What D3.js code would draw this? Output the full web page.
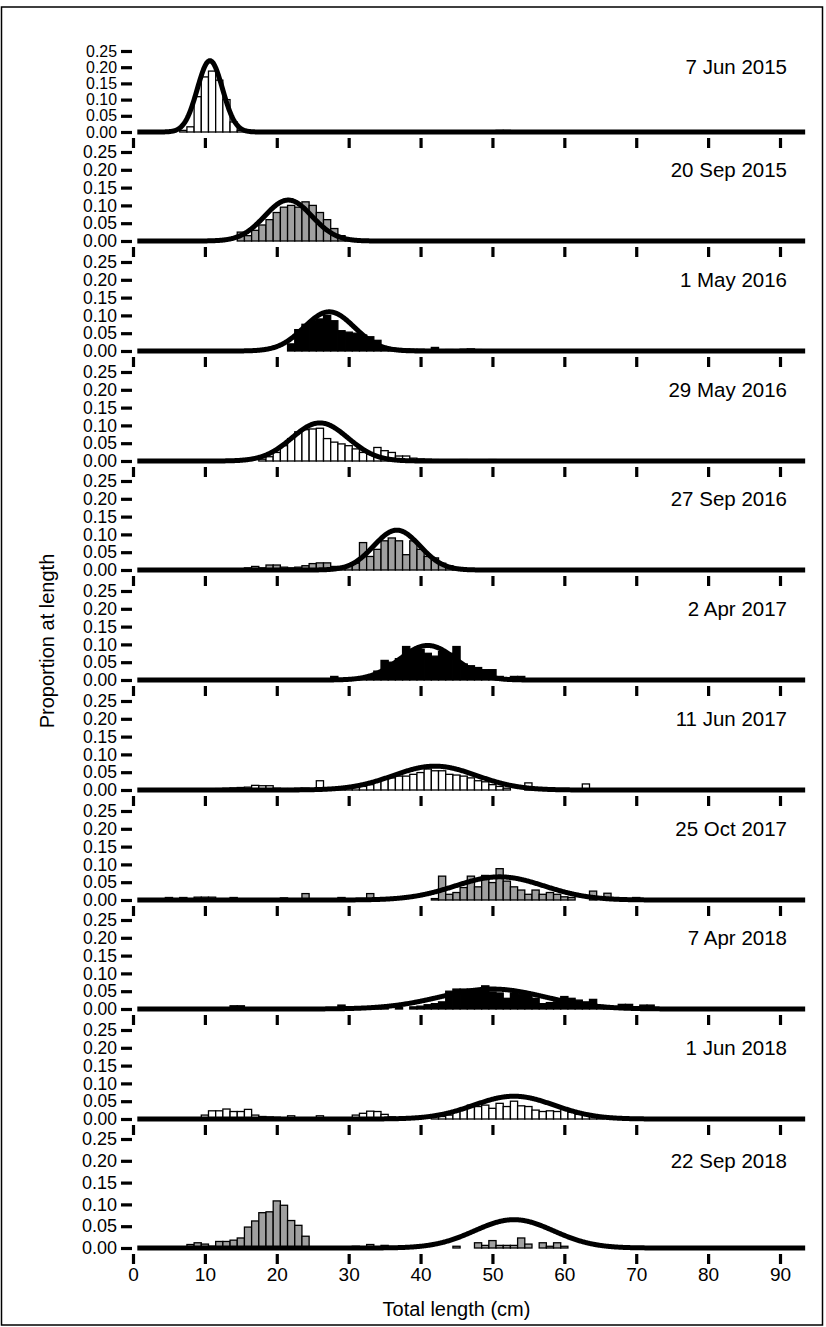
<!DOCTYPE html>
<html>
<head>
<meta charset="utf-8">
<script src="https://cdn.jsdelivr.net/npm/d3@7"></script>
<style>
  body { margin: 0; background: #fff; }
  svg text { font-family: "Liberation Sans", Arial, sans-serif; fill: #000; }
</style>
</head>
<body>
<div id="chart"></div>
<script>
// survey dates, one panel each
const panelDates = ['7 Jun 2015', '20 Sep 2015', '1 May 2016', '29 May 2016', '27 Sep 2016',
  '2 Apr 2017', '11 Jun 2017', '25 Oct 2017', '7 Apr 2018', '1 Jun 2018', '22 Sep 2018'];

// proportion at length, [length bin centre (cm), proportion]
const jun2015 = [[7,0.005],[8,0.016],[9,0.109],[10,0.17],[11,0.188],[12,0.16],[13,0.1],[14,0.031],[15,0.005],
  [34,0.003],[37,0.003],[40,0.003],[47,0.004],[51,0.005],[52,0.005]];
const sep2015 = [[15,0.025],[16,0.015],[17,0.03],[18,0.045],[19,0.06],[20,0.08],[21,0.095],[22,0.1],[23,0.095],
  [24,0.11],[25,0.1],[26,0.08],[27,0.06],[28,0.035],[29,0.015],[30,0.005]];
const may2016a = [[22,0.02],[23,0.06],[24,0.075],[25,0.085],[26,0.09],[27,0.1],[28,0.085],[29,0.057],[30,0.053],
  [31,0.05],[32,0.045],[33,0.04],[34,0.03],[35,0.012],[36,0.008],[37,0.007],[38,0.006],[39,0.005],[40,0.005],
  [41,0.004],[42,0.01],[43,0.003],[44,0.004],[45,0.003],[46,0.005],[47,0.006],[48,0.004],[52,0.002],[56,0.002]];
const may2016b = [[18,0.005],[19,0.012],[20,0.024],[21,0.043],[22,0.063],[23,0.082],[24,0.088],[25,0.09],[26,0.092],
  [27,0.063],[28,0.053],[29,0.048],[30,0.043],[31,0.034],[32,0.024],[33,0.019],[34,0.038],[35,0.029],[36,0.024],
  [37,0.014],[38,0.014],[39,0.008],[40,0.006],[41,0.005],[42,0.004],[44,0.003],[46,0.004],[48,0.003],[50,0.004],
  [52,0.003],[55,0.003],[58,0.003]];
const sep2016 = [[16,0.006],[17,0.01],[18,0.006],[19,0.014],[20,0.014],[21,0.008],[22,0.006],[23,0.008],[24,0.012],
  [25,0.018],[26,0.02],[27,0.02],[28,0.01],[29,0.01],[30,0.012],[31,0.019],[32,0.077],[33,0.038],[34,0.058],
  [35,0.082],[36,0.09],[37,0.082],[38,0.043],[39,0.082],[40,0.058],[41,0.038],[42,0.034],[43,0.019],[44,0.012],[45,0.005]];
const apr2017 = [[28,0.01],[31,0.004],[32,0.006],[33,0.01],[34,0.025],[35,0.055],[36,0.05],[37,0.06],[38,0.094],
  [39,0.086],[40,0.086],[41,0.075],[42,0.067],[43,0.08],[44,0.075],[45,0.094],[46,0.045],[47,0.04],[48,0.035],
  [49,0.029],[50,0.029],[51,0.01],[53,0.01],[54,0.01]];
const jun2017 = [[11,0.003],[12,0.004],[13,0.005],[14,0.006],[15,0.007],[16,0.008],[17,0.013],[18,0.012],[19,0.012],
  [20,0.005],[21,0.004],[22,0.004],[23,0.005],[24,0.005],[26,0.026],[27,0.004],[28,0.004],[29,0.005],[30,0.005],
  [31,0.007],[32,0.01],[33,0.015],[34,0.025],[35,0.032],[36,0.034],[37,0.039],[38,0.039],[39,0.044],[40,0.049],
  [41,0.059],[42,0.054],[43,0.054],[44,0.044],[45,0.042],[46,0.039],[47,0.034],[48,0.026],[49,0.023],[50,0.015],
  [51,0.01],[52,0.005],[55,0.02],[63,0.017]];
const oct2017 = [[5,0.007],[7,0.007],[9,0.008],[10,0.008],[11,0.008],[14,0.007],[21,0.006],[24,0.018],[29,0.007],
  [33,0.018],[36,0.006],[42,0.004],[43,0.067],[44,0.016],[45,0.021],[46,0.035],[47,0.067],[48,0.037],[49,0.069],
  [50,0.049],[51,0.088],[52,0.053],[53,0.037],[54,0.028],[55,0.016],[56,0.028],[57,0.016],[58,0.021],[59,0.016],
  [60,0.009],[61,0.007],[64,0.025],[66,0.019],[70,0.007]];
const apr2018 = [[14,0.009],[15,0.009],[29,0.011],[34,0.004],[35,0.004],[37,0.004],[39,0.006],[40,0.008],[41,0.012],
  [42,0.015],[43,0.02],[44,0.05],[45,0.056],[46,0.056],[47,0.056],[48,0.05],[49,0.065],[50,0.048],[51,0.045],
  [52,0.03],[53,0.045],[54,0.042],[55,0.04],[56,0.03],[57,0.015],[58,0.018],[59,0.02],[60,0.035],[61,0.03],
  [62,0.025],[63,0.02],[64,0.027],[65,0.01],[66,0.008],[68,0.013],[69,0.013],[71,0.011],[72,0.011]];
const jun2018 = [[10,0.011],[11,0.023],[12,0.023],[13,0.028],[14,0.021],[15,0.021],[16,0.027],[17,0.011],[18,0.007],
  [19,0.006],[20,0.005],[22,0.009],[26,0.009],[31,0.011],[32,0.016],[33,0.022],[34,0.021],[35,0.013],[36,0.006],
  [42,0.007],[43,0.007],[44,0.011],[45,0.021],[46,0.03],[47,0.039],[48,0.035],[49,0.039],[50,0.03],[51,0.044],
  [52,0.035],[53,0.05],[54,0.037],[55,0.035],[56,0.025],[57,0.021],[58,0.023],[59,0.021],[60,0.028],[61,0.019],
  [62,0.013],[63,0.011],[64,0.009],[65,0.005]];
const sep2018 = [[8,0.008],[9,0.012],[10,0.009],[11,0.004],[12,0.015],[13,0.015],[14,0.018],[15,0.023],[16,0.048],
  [17,0.062],[18,0.081],[19,0.083],[20,0.108],[21,0.098],[22,0.063],[23,0.052],[24,0.027],[31,0.004],[33,0.008],
  [35,0.006],[45,0.004],[48,0.012],[49,0.006],[50,0.017],[51,0.006],[52,0.006],[53,0.006],[54,0.023],[55,0.009],
  [57,0.012],[58,0.004],[59,0.012],[60,0.004]];

const panelBars = [jun2015, sep2015, may2016a, may2016b, sep2016, apr2017, jun2017, oct2017, apr2018, jun2018, sep2018];

// fitted normal curve per panel: mean, sd (cm) and peak height
const curveMeans = [10.7, 21.6, 27.3, 26.0, 36.7, 41.0, 42.0, 51.0, 50.0, 53.0, 53.0];
const curveSds = [1.75, 3.3, 3.5, 3.9, 3.2, 3.9, 5.8, 6.2, 7.3, 5.6, 5.5];
const curvePeaks = [0.22, 0.115, 0.11, 0.107, 0.112, 0.097, 0.067, 0.065, 0.056, 0.064, 0.065];

const yTicks = [0, 0.05, 0.10, 0.15, 0.20, 0.25];
const xTicks = [0, 10, 20, 30, 40, 50, 60, 70, 80, 90];
const barFills = ['#ffffff', '#a0a0a0', '#000000'];

const width = 826, height = 1327;
const tickFont = 18;
const labelFont = 20.5;
const titleFont = 20;

// panel zero lines and 0.25 lines
const panelBase = [132, 241, 351, 461, 570, 680, 790, 900, 1009, 1119, 1248];
const panelTop = [51, 152, 262, 372, 481, 591, 701, 811, 920, 1030, 1139];

const svg = d3.select('#chart')
  .append('svg')
  .attr('width', width)
  .attr('height', height);

svg.append('rect')
  .attr('x', 1.5).attr('y', 7)
  .attr('width', 821).attr('height', 1318)
  .attr('fill', 'none')
  .attr('stroke', '#000')
  .attr('stroke-width', 1.5);

const x = d3.scaleLinear().domain([0, 90]).range([133, 780]);
const curveX = d3.range(0.6, 93.55, 0.1);

panelDates.forEach((date, i) => {
  const y = d3.scaleLinear().domain([0, 0.25]).range([panelBase[i], panelTop[i]]);
  const g = svg.append('g');
  const last = i === panelDates.length - 1;
  // tick labels must fit between neighbouring ticks
  const step = (panelBase[i] - panelTop[i]) / 5;
  const yFont = Math.min(tickFont, step - 0.3);

  // y axis
  const yAxis = g.append('g')
    .attr('transform', `translate(132,0)`)
    .call(d3.axisLeft(y).tickValues(yTicks).tickFormat(d3.format('.2f')).tickSize(11).tickPadding(4));
  yAxis.select('.domain').remove();
  yAxis.selectAll('line').attr('stroke-width', 3.2);
  yAxis.selectAll('text').attr('font-size', yFont).attr('font-family', '"Liberation Sans", Arial, sans-serif');

  // x axis ticks
  const xAxis = g.append('g')
    .attr('transform', `translate(0,${panelBase[i] + 6})`)
    .call(d3.axisBottom(x).tickValues(xTicks).tickSize(10).tickPadding(4)
      .tickFormat(last ? d3.format('d') : ''));
  xAxis.select('.domain').remove();
  xAxis.selectAll('line').attr('stroke-width', 3.2);
  xAxis.selectAll('text').attr('font-size', 19).attr('font-family', '"Liberation Sans", Arial, sans-serif');

  // bars
  g.selectAll('.bar')
    .data(panelBars[i])
    .enter()
    .append('rect')
    .attr('class', 'bar')
    .attr('x', d => x(d[0] - 0.5))
    .attr('width', d => x(d[0] + 0.5) - x(d[0] - 0.5))
    .attr('y', d => y(d[1]))
    .attr('height', d => y(0) - y(d[1]))
    .attr('fill', barFills[i % 3])
    .attr('stroke', '#000')
    .attr('stroke-width', 1.3);

  // fitted curve
  const line = d3.line()
    .x(d => x(d))
    .y(d => y(curvePeaks[i] * Math.exp(-0.5 * Math.pow((d - curveMeans[i]) / curveSds[i], 2))));

  g.append('path')
    .datum(curveX)
    .attr('d', line)
    .attr('fill', 'none')
    .attr('stroke', '#000')
    .attr('stroke-width', 5)
    .attr('stroke-linejoin', 'round');

  // date label
  g.append('text')
    .attr('x', 787)
    .attr('y', y(0.20) + 7)
    .attr('text-anchor', 'end')
    .attr('font-size', labelFont)
    .text(date);
});

svg.append('text')
  .attr('x', (x(0) + x(90)) / 2)
  .attr('y', 1316)
  .attr('text-anchor', 'middle')
  .attr('font-size', titleFont)
  .text('Total length (cm)');

svg.append('text')
  .attr('transform', `translate(54,641) rotate(-90)`)
  .attr('text-anchor', 'middle')
  .attr('font-size', titleFont)
  .text('Proportion at length');
</script>
</body>
</html>
